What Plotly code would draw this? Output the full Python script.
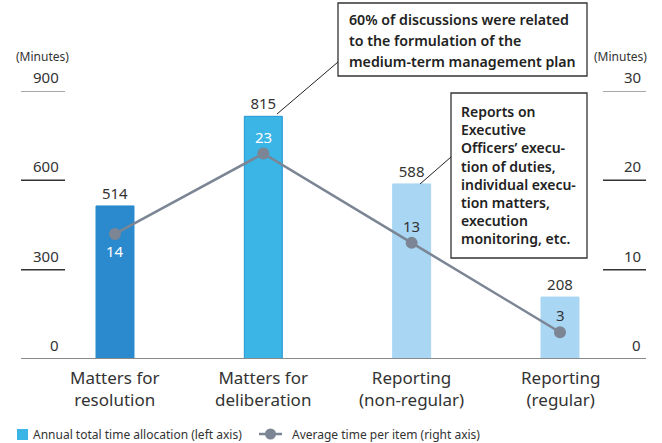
import plotly.graph_objects as go

# Data
categories = ["Matters for<br>resolution", "Matters for<br>deliberation",
              "Reporting<br>(non-regular)", "Reporting<br>(regular)"]
annual_minutes = [514, 815, 588, 208]          # left axis
avg_minutes_per_item = [14, 23, 13, 3]          # right axis
left_ticks = [0, 300, 600, 900]
right_ticks = [0, 10, 20, 30]

bar_colors = ["#2a8acd", "#3bb4e6", "#a8d6f3", "#a8d6f3"]
bar_edges = ["#2a8acd", "#2596d4", "#a8d6f3", "#a8d6f3"]
line_color = "#7b8594"
text_color = "#333333"
FONT = "Noto Sans"

W, H = 662, 443
L, R, T, B = 21, 16, 91, 84
PW, PH = W - L - R, H - T - B


def px(xp):
    return (xp - L) / PW


def py(yp):
    return (H - B - yp) / PH


fig = go.Figure()

fig.add_trace(go.Bar(
    x=categories, y=annual_minutes, width=0.256,
    marker=dict(color=bar_colors, line=dict(width=1, color=bar_edges)),
    text=annual_minutes, textposition="outside",
    textfont=dict(size=15, color=text_color, family=FONT),
    cliponaxis=False, showlegend=False, yaxis="y",
))

fig.add_trace(go.Scatter(
    x=categories, y=avg_minutes_per_item, mode="lines+markers",
    line=dict(color=line_color, width=2.5),
    marker=dict(size=12, color=line_color),
    cliponaxis=False, showlegend=False, yaxis="y2",
))

# Value labels for the line
label_pos = [(-1, "white"), (1, "white"), (1, text_color), (1, text_color)]
for cat, v, (d, c) in zip(categories, avg_minutes_per_item, label_pos):
    fig.add_annotation(x=cat, y=v, xref="x", yref="y2", text=str(v),
                       showarrow=False, yshift=d * 17, xanchor="center", yanchor="middle",
                       font=dict(size=15, color=c, family=FONT))

# Category labels
for cat in categories:
    fig.add_annotation(x=cat, y=py(388), xref="x", yref="paper", text=cat,
                       showarrow=False, xanchor="center", yanchor="middle",
                       font=dict(size=17, color=text_color, family=FONT))

# Axis tick marks and labels
for t in left_ticks:
    col = "#8a8a8a" if t in (0, 900) else "#333333"
    if t != 0:
        fig.add_shape(type="line", xref="paper", yref="y", x0=px(21), x1=px(65),
                      y0=t, y1=t, line=dict(color=col, width=1.5))
    fig.add_annotation(xref="paper", yref="y", x=px(61), y=t, text=str(t),
                       xanchor="right", yanchor="bottom", yshift=2, showarrow=False,
                       font=dict(size=15, color=text_color, family=FONT))
for t in right_ticks:
    col = "#8a8a8a" if t in (0, 30) else "#333333"
    if t != 0:
        fig.add_shape(type="line", xref="paper", yref="y2", x0=px(603), x1=px(646),
                      y0=t, y1=t, line=dict(color=col, width=1.5))
    fig.add_annotation(xref="paper", yref="y2", x=px(643), y=t, text=str(t),
                       xanchor="right", yanchor="bottom", yshift=2, showarrow=False,
                       font=dict(size=15, color=text_color, family=FONT))

# Baseline
fig.add_shape(type="line", xref="paper", yref="y", x0=px(21), x1=px(646), y0=0, y1=0,
              line=dict(color="#8a8a8a", width=2))

# Unit labels
for ux in (42, 620):
    fig.add_annotation(xref="paper", yref="paper", x=px(ux), y=py(57), text="(Minutes)",
                       showarrow=False, xanchor="center", yanchor="middle",
                       font=dict(size=12, color=text_color, family=FONT))

# Callout 1
fig.add_shape(type="rect", xref="paper", yref="paper", x0=px(338), x1=px(587),
              y0=py(3), y1=py(76), line=dict(color="#333333", width=1.3), fillcolor="white")
fig.add_shape(type="line", xref="paper", yref="paper", x0=px(338), y0=py(62),
              x1=px(277), y1=py(114), line=dict(color="#222222", width=1))
callout1 = ["60% of discussions were related", "to the formulation of the",
            "medium-term management plan"]
for i, line in enumerate(callout1):
    fig.add_annotation(xref="paper", yref="paper", x=px(347), y=py(20 + 20.5 * i),
                       xanchor="left", yanchor="middle", align="left", showarrow=False,
                       text=line, font=dict(size=14.2, color="#222222", family=FONT, weight=600))

# Callout 2
fig.add_shape(type="rect", xref="paper", yref="paper", x0=px(451), x1=px(587),
              y0=py(93), y1=py(258), line=dict(color="#333333", width=1.3), fillcolor="white")
fig.add_shape(type="line", xref="paper", yref="paper", x0=px(451), y0=py(157),
              x1=px(420), y1=py(184), line=dict(color="#222222", width=1))
fig.add_annotation(xref="paper", yref="paper", x=px(459), y=py(175), xanchor="left",
                   yanchor="middle", align="left", showarrow=False,
                   text="Reports on<br>Executive<br>Officers’ execu-<br>tion of duties,<br>individual execu-<br>tion matters,<br>execution<br>monitoring, etc.",
                   font=dict(size=14, color="#222222", family=FONT, weight=600))

# Legend
fig.add_shape(type="rect", xref="paper", yref="paper", x0=px(17), x1=px(28),
              y0=py(429), y1=py(440), line=dict(width=0), fillcolor="#3bb4e6")
fig.add_annotation(xref="paper", yref="paper", x=px(31), y=py(434), xanchor="left",
                   yanchor="middle", showarrow=False,
                   text="Annual total time allocation (left axis)",
                   font=dict(size=12, color=text_color, family=FONT))
fig.add_shape(type="line", xref="paper", yref="paper", x0=px(259), x1=px(282),
              y0=py(434), y1=py(434), line=dict(color=line_color, width=2.5))
fig.add_shape(type="circle", xref="paper", yref="paper", x0=px(265), x1=px(276),
              y0=py(428.5), y1=py(439.5), line=dict(width=0), fillcolor=line_color)
fig.add_annotation(xref="paper", yref="paper", x=px(290), y=py(434), xanchor="left",
                   yanchor="middle", showarrow=False,
                   text="Average time per item (right axis)",
                   font=dict(size=12, color=text_color, family=FONT))

fig.update_layout(
    width=W, height=H, margin=dict(l=L, r=R, t=T, b=B),
    plot_bgcolor="white", paper_bgcolor="white",
    font=dict(family=FONT, color=text_color),
    xaxis=dict(range=[-0.6337, 3.5798], showticklabels=False, showgrid=False,
               zeroline=False, showline=False, ticks=""),
    yaxis=dict(range=[0, 900], visible=False, showgrid=False),
    yaxis2=dict(range=[0, 30], overlaying="y", side="right", visible=False, showgrid=False),
    showlegend=False, bargap=0.5,
)

fig.write_html("out.html")
